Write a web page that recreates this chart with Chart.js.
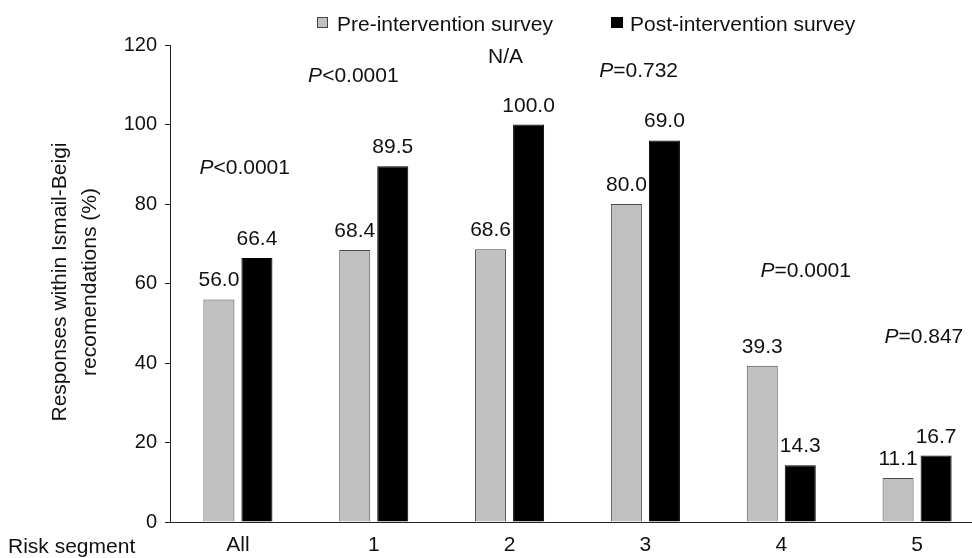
<!DOCTYPE html>
<html>
<head>
<meta charset="utf-8">
<script src="https://cdn.jsdelivr.net/npm/chart.js@4"></script>
<style>
  html, body { margin: 0; padding: 0; background: #fff; overflow: hidden; }
  #wrap { width: 985px; height: 558px; position: relative; }
</style>
</head>
<body>
<div id="wrap"><canvas id="c" width="985" height="558"></canvas></div>
<script>
// ---- data ----
const categories = ['All', '1', '2', '3', '4', '5'];
const preValues  = [56.0, 68.4, 68.6, 80.0, 39.3, 11.1];
const postValues = [66.4, 89.5, 100.0, 96.0, 14.3, 16.7];
const preLabels  = ['56.0', '68.4', '68.6', '80.0', '39.3', '11.1'];
const postLabels = ['66.4', '89.5', '100.0', '69.0', '14.3', '16.7'];
const yTicks = [0, 20, 40, 60, 80, 100, 120];
const seriesNames = ['Pre-intervention survey', 'Post-intervention survey'];
// p-value notes: italic prefix, rest, anchor (category index, value)
const noteItalic = ['P', 'P', '', 'P', 'P', 'P'];
const noteRest   = ['<0.0001', '<0.0001', 'N/A', '=0.732', '=0.0001', '=0.847'];
const noteCat    = [0.05, 0.85, 1.97, 2.95, 4.18, 5.05];
const noteValue  = [87.5, 110.7, 115.5, 112, 61.6, 45];
const xRowTitle = 'Risk segment';
const yTitleLines = ['Responses within Ismail-Beigi', 'recomendations (%)'];

const FONT = '"Liberation Sans", Arial, Helvetica, sans-serif';
const TXT = '#111';

const extras = {
  id: 'extras',
  afterDatasetsDraw(chart) {
    const ctx = chart.ctx;
    const xs = chart.scales.x, ys = chart.scales.y;
    ctx.save();
    ctx.fillStyle = TXT;
    ctx.font = '21px ' + FONT;
    ctx.textAlign = 'center';
    ctx.textBaseline = 'alphabetic';
    const lbls = [preLabels, postLabels];
    chart.data.datasets.forEach((ds, di) => {
      chart.getDatasetMeta(di).data.forEach((bar, i) => {
        ctx.fillText(lbls[di][i], bar.x, bar.y - 13);
      });
    });
    // p notes
    ctx.textAlign = 'left';
    for (let i = 0; i < noteRest.length; i++) {
      const cx = xs.getPixelForValue(noteCat[i]);
      const by = ys.getPixelForValue(noteValue[i]);
      ctx.font = 'italic 21px ' + FONT;
      const w1 = ctx.measureText(noteItalic[i]).width;
      ctx.font = '21px ' + FONT;
      const w2 = ctx.measureText(noteRest[i]).width;
      let x0 = cx - (w1 + w2) / 2;
      ctx.font = 'italic 21px ' + FONT;
      ctx.fillText(noteItalic[i], x0, by);
      ctx.font = '21px ' + FONT;
      ctx.fillText(noteRest[i], x0 + w1, by);
    }
    // legend
    ctx.font = '21px ' + FONT;
    ctx.fillStyle = '#c0c0c0';
    ctx.fillRect(317, 17, 11, 11);
    ctx.strokeStyle = '#444';
    ctx.lineWidth = 1;
    ctx.strokeRect(317.5, 17.5, 10, 10);
    ctx.fillStyle = TXT;
    ctx.fillText(seriesNames[0], 337, 31);
    ctx.fillStyle = '#000';
    ctx.fillRect(611, 17, 12, 11);
    ctx.fillStyle = TXT;
    ctx.fillText(seriesNames[1], 630, 31);
    // x row title
    ctx.fillText(xRowTitle, 8, 553);
    // y title
    ctx.save();
    ctx.translate(0, 282);
    ctx.rotate(-Math.PI / 2);
    ctx.textAlign = 'center';
    ctx.fillText(yTitleLines[0], 0, 66);
    ctx.fillText(yTitleLines[1], 0, 96);
    ctx.restore();
    ctx.restore();
  }
};

new Chart(document.getElementById('c'), {
  type: 'bar',
  data: {
    labels: categories,
    datasets: [
      { label: seriesNames[0], data: preValues, backgroundColor: '#c0c0c0', borderColor: '#4a4a4a', borderWidth: 1,
        categoryPercentage: 0.56, barPercentage: 0.816 },
      { label: seriesNames[1], data: postValues, backgroundColor: '#000', borderColor: '#000', borderWidth: 1,
        categoryPercentage: 0.56, barPercentage: 0.816 }
    ]
  },
  options: {
    responsive: false,
    animation: false,
    layout: { padding: { top: 45, left: 0, right: 0, bottom: 0 } },
    plugins: { legend: { display: false }, tooltip: { enabled: false } },
    scales: {
      x: {
        offset: true,
        grid: { display: false, drawTicks: false },
        border: { display: true, color: '#222', width: 1 },
        ticks: { color: TXT, font: { family: FONT, size: 21 }, padding: 11, maxRotation: 0 },
        afterFit(s) { s.height = 36; }
      },
      y: {
        min: 0, max: 120,
        afterBuildTicks(s) { s.ticks = yTicks.map(v => ({ value: v })); },
        grid: { display: true, drawOnChartArea: false, drawTicks: true, tickLength: 5, color: '#222' },
        border: { display: true, color: '#222', width: 1 },
        ticks: { color: TXT, font: { family: FONT, size: 20 }, padding: 8 },
        afterFit(s) { s.width = 170; }
      }
    }
  },
  plugins: [extras]
});
</script>
</body>
</html>
